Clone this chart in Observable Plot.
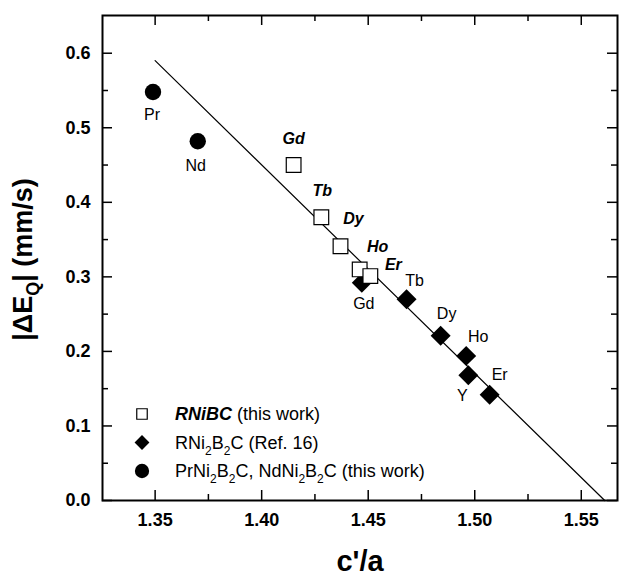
<!DOCTYPE html>
<html><head><meta charset="utf-8">
<script src="https://cdn.jsdelivr.net/npm/d3@7"></script>
<script src="https://cdn.jsdelivr.net/npm/@observablehq/plot@0.6"></script>
<style>body{margin:0;background:#fff}</style>
</head><body><div id="chart"></div>
<script>
// ---- data ----
const rnibcNames = ["Gd", "Tb", "Dy", "Ho", "Er"];
const rnibcX = [1.415, 1.428, 1.437, 1.446, 1.451];
const rnibcY = [0.450, 0.380, 0.341, 0.310, 0.301];

const rni2b2cNames = ["Gd", "Tb", "Dy", "Ho", "Y", "Er"];
const rni2b2cX = [1.447, 1.468, 1.484, 1.496, 1.497, 1.507];
const rni2b2cY = [0.292, 0.270, 0.221, 0.194, 0.168, 0.142];

const prndNames = ["Pr", "Nd"];
const prndX = [1.349, 1.370];
const prndY = [0.548, 0.482];

const fitX = [1.350, 1.561];
const fitY = [0.590, 0.000];

const xTicks = [1.35, 1.40, 1.45, 1.50, 1.55];
const xMinorTicks = [1.375, 1.425, 1.475, 1.525];
const yTicks = [0.0, 0.1, 0.2, 0.3, 0.4, 0.5, 0.6];
const yMinorTicks = [0.05, 0.15, 0.25, 0.35, 0.45, 0.55];

// ---- layout ----
const W = 619, H = 582, mL = 102, mR = 2, mT = 15, mB = 82;
const fw = W - mL - mR, fh = H - mT - mB;
const FONT = "'Liberation Sans', Arial, Helvetica, sans-serif";

const toRows = (xs, ys, names) => xs.map((x, i) => ({x, y: ys[i], name: names ? names[i] : null}));
const rnibc = toRows(rnibcX, rnibcY, rnibcNames);
const rni2 = toRows(rni2b2cX, rni2b2cY, rni2b2cNames);
const prnd = toRows(prndX, prndY, prndNames);
const fit = toRows(fitX, fitY);

// label offsets (layout only)
const offRnibc = {Gd: [0, -26], Tb: [1, -26], Dy: [13, -27], Ho: [18, -23], Er: [23, -11]};
const offRni2 = {Gd: [2, 21], Tb: [8, -18], Dy: [6, -22], Ho: [12, -19], Y: [-6, 21], Er: [10, -20]};
const offPrnd = {Pr: [-1, 23], Nd: [-2, 25]};

function labels(rows, offs, style) {
  return rows.map(r => Plot.text([r], {x: "x", y: "y", text: "name", dx: offs[r.name][0], dy: offs[r.name][1], fill: "black", ...style}));
}

const chart = Plot.plot({
  width: W, height: H,
  marginLeft: mL, marginRight: mR, marginTop: mT, marginBottom: mB,
  style: {fontFamily: FONT, background: "white", color: "black"},
  x: {domain: [1.3253, 1.567], label: null},
  y: {domain: [0, 0.6506], label: null},
  marks: [
    Plot.axisX(xTicks, {tickSize: 0, tickPadding: 13, tickFormat: d => d.toFixed(2), fontSize: 18, fontWeight: "bold", label: null}),
    Plot.axisY(yTicks, {tickSize: 0, tickPadding: 12, tickFormat: d => d.toFixed(1), fontSize: 18, fontWeight: "bold", label: null}),
    // inward ticks
    Plot.tickX(xTicks, {x: d => d, insetTop: fh - 10, strokeWidth: 1.5}),
    Plot.tickX(xTicks, {x: d => d, insetBottom: fh - 10, strokeWidth: 1.5}),
    Plot.tickX(xMinorTicks, {x: d => d, insetTop: fh - 6, strokeWidth: 1.5}),
    Plot.tickX(xMinorTicks, {x: d => d, insetBottom: fh - 6, strokeWidth: 1.5}),
    Plot.tickY(yTicks, {y: d => d, insetRight: fw - 10, strokeWidth: 1.5}),
    Plot.tickY(yTicks, {y: d => d, insetLeft: fw - 10, strokeWidth: 1.5}),
    Plot.tickY(yMinorTicks, {y: d => d, insetRight: fw - 6, strokeWidth: 1.5}),
    Plot.tickY(yMinorTicks, {y: d => d, insetLeft: fw - 6, strokeWidth: 1.5}),
    Plot.frame({stroke: "black", strokeWidth: 2}),
    Plot.line(fit, {x: "x", y: "y", stroke: "black", strokeWidth: 1.2}),
    Plot.dot(rni2, {x: "x", y: "y", symbol: "diamond2", r: 9, fill: "black", stroke: "none"}),
    Plot.dot(rnibc, {x: "x", y: "y", symbol: "square", r: 8.3, fill: "white", stroke: "black", strokeWidth: 1.2}),
    Plot.dot(prnd, {x: "x", y: "y", symbol: "circle", r: 8.2, fill: "black", stroke: "none"}),
    ...labels(rnibc, offRnibc, {fontSize: 16, fontWeight: "bold", fontStyle: "italic"}),
    ...labels(rni2, offRni2, {fontSize: 16}),
    ...labels(prnd, offPrnd, {fontSize: 16}),
    Plot.text(["c'/a"], {frameAnchor: "bottom", dy: 70, fontSize: 29, fontWeight: "bold", fill: "black"})
  ]
});

document.getElementById("chart").appendChild(chart);

const svg = d3.select(chart);

// y title with subscript
const yt = svg.append("text")
  .attr("transform", `translate(32,${mT + fh / 2 + 2}) rotate(-90)`)
  .attr("text-anchor", "middle")
  .attr("font-family", FONT).attr("font-size", 27).attr("font-weight", "bold").attr("fill", "black");
yt.append("tspan").text("|ΔE");
yt.append("tspan").attr("font-size", 18).attr("dy", 7).text("Q");
yt.append("tspan").attr("dy", -7).text("| (mm/s)");

// legend
const legendRows = [
  {symbol: d3.symbolSquare, size: 110, fill: "white", stroke: "black",
   parts: [{t: "RNiBC", bold: true, italic: true}, {t: " (this work)"}]},
  {symbol: d3.symbolDiamond2, size: 140, fill: "black", stroke: "none",
   parts: [{t: "RNi"}, {t: "2", sub: true}, {t: "B"}, {t: "2", sub: true}, {t: "C (Ref. 16)"}]},
  {symbol: d3.symbolCircle, size: 160, fill: "black", stroke: "none",
   parts: [{t: "PrNi"}, {t: "2", sub: true}, {t: "B"}, {t: "2", sub: true}, {t: "C, NdNi"}, {t: "2", sub: true}, {t: "B"}, {t: "2", sub: true}, {t: "C (this work)"}]}
];
const lg = svg.append("g").attr("font-family", FONT).attr("font-size", 18).attr("fill", "black").attr("text-anchor", "start");
legendRows.forEach((row, i) => {
  const cy = 414 + i * 28.5;
  lg.append("path").attr("transform", `translate(142,${cy})`)
    .attr("d", d3.symbol(row.symbol, row.size)())
    .attr("fill", row.fill).attr("stroke", row.stroke).attr("stroke-width", 1.2);
  const t = lg.append("text").attr("x", 175).attr("y", cy).attr("dy", "0.35em").attr("text-anchor", "start");
  let shifted = false;
  row.parts.forEach(p => {
    const ts = t.append("tspan").text(p.t);
    if (p.bold) ts.attr("font-weight", "bold");
    if (p.italic) ts.attr("font-style", "italic");
    if (p.sub) { ts.attr("font-size", 12).attr("dy", 6); shifted = true; }
    else if (shifted) { ts.attr("dy", -6); shifted = false; }
  });
});
</script>
</body></html>
